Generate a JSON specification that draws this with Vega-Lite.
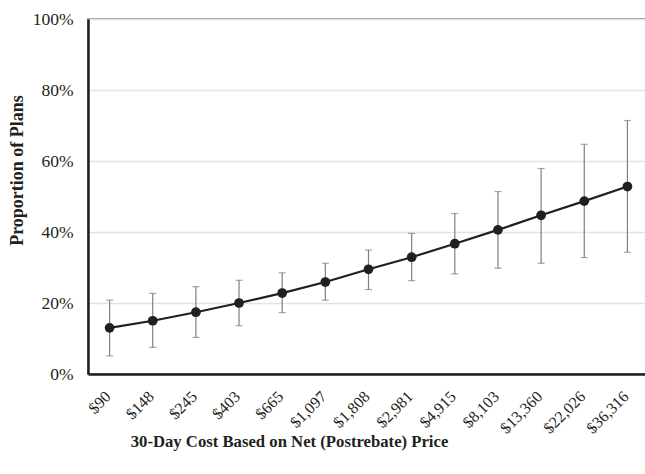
{
  "$schema": "https://vega.github.io/schema/vega-lite/v6.json",
  "width": 561,
  "height": 355,
  "autosize": "none",
  "padding": {"left": 88, "top": 19, "right": 0, "bottom": 100},
  "background": "white",
  "config": {
    "view": {"stroke": "#7a7a7a", "strokeWidth": 1.5},
    "font": "Liberation Serif"
  },
  "data": {
    "values": [
      {"cost": "$90", "p": 13.0, "lo": 5.1, "hi": 20.8},
      {"cost": "$148", "p": 15.0, "lo": 7.5, "hi": 22.7},
      {"cost": "$245", "p": 17.4, "lo": 10.3, "hi": 24.6},
      {"cost": "$403", "p": 20.0, "lo": 13.6, "hi": 26.4},
      {"cost": "$665", "p": 22.8, "lo": 17.3, "hi": 28.5},
      {"cost": "$1,097", "p": 25.9, "lo": 20.8, "hi": 31.2},
      {"cost": "$1,808", "p": 29.5, "lo": 23.8, "hi": 34.9},
      {"cost": "$2,981", "p": 32.9, "lo": 26.3, "hi": 39.6},
      {"cost": "$4,915", "p": 36.7, "lo": 28.2, "hi": 45.2},
      {"cost": "$8,103", "p": 40.6, "lo": 29.8, "hi": 51.4},
      {"cost": "$13,360", "p": 44.7, "lo": 31.2, "hi": 57.9},
      {"cost": "$22,026", "p": 48.7, "lo": 32.8, "hi": 64.7},
      {"cost": "$36,316", "p": 52.8, "lo": 34.3, "hi": 71.4}
    ]
  },
  "encoding": {
    "x": {
      "field": "cost", "type": "ordinal", "sort": null,
      "scale": {"type": "band", "paddingInner": 0, "paddingOuter": 0},
      "axis": {
        "title": "30-Day Cost Based on Net (Postrebate) Price",
        "titleFont": "Liberation Serif", "titleFontSize": 16.7, "titleFontWeight": "bold",
        "titleColor": "#231f20",
        "titleX": 201, "titleY": 72, "titleAlign": "center", "titleBaseline": "alphabetic",
        "labelAngle": -45, "labelFontSize": 16, "labelColor": "#231f20",
        "labelFont": "Liberation Serif", "labelPadding": 14, "labelOffset": -7,
        "ticks": false, "domainColor": "#231f20", "domainWidth": 2.5,
        "grid": false
      }
    }
  },
  "layer": [
    {
      "mark": {"type": "rule", "color": "#7f7f7f", "strokeWidth": 1.2},
      "encoding": {
        "y": {"field": "lo", "type": "quantitative"},
        "y2": {"field": "hi"}
      }
    },
    {
      "mark": {"type": "tick", "color": "#7f7f7f", "size": 7, "thickness": 1.2},
      "encoding": {"y": {"field": "lo", "type": "quantitative"}}
    },
    {
      "mark": {"type": "tick", "color": "#7f7f7f", "size": 7, "thickness": 1.2},
      "encoding": {"y": {"field": "hi", "type": "quantitative"}}
    },
    {
      "mark": {"type": "line", "color": "#231f20", "strokeWidth": 2.2},
      "encoding": {
        "y": {
          "field": "p", "type": "quantitative",
          "scale": {"domain": [0, 100], "nice": false},
          "axis": {
            "title": "Proportion of Plans",
            "titleFont": "Liberation Serif", "titleFontSize": 18, "titleFontWeight": "bold",
            "titleColor": "#231f20",
            "titleX": -71, "titleY": 151, "titleAngle": -90, "titleAlign": "center", "titleBaseline": "middle",
            "values": [0, 20, 40, 60, 80, 100],
            "labelExpr": "datum.value + '%'",
            "labelFontSize": 17.5, "labelColor": "#231f20", "labelFont": "Liberation Serif",
            "labelPadding": 15, "ticks": false,
            "domainColor": "#231f20", "domainWidth": 2.5,
            "grid": true, "gridColor": "#e3e3e3", "gridWidth": 1.5
          }
        }
      }
    },
    {
      "mark": {"type": "point", "filled": true, "color": "#231f20", "size": 95, "opacity": 1},
      "encoding": {"y": {"field": "p", "type": "quantitative"}}
    }
  ]
}
